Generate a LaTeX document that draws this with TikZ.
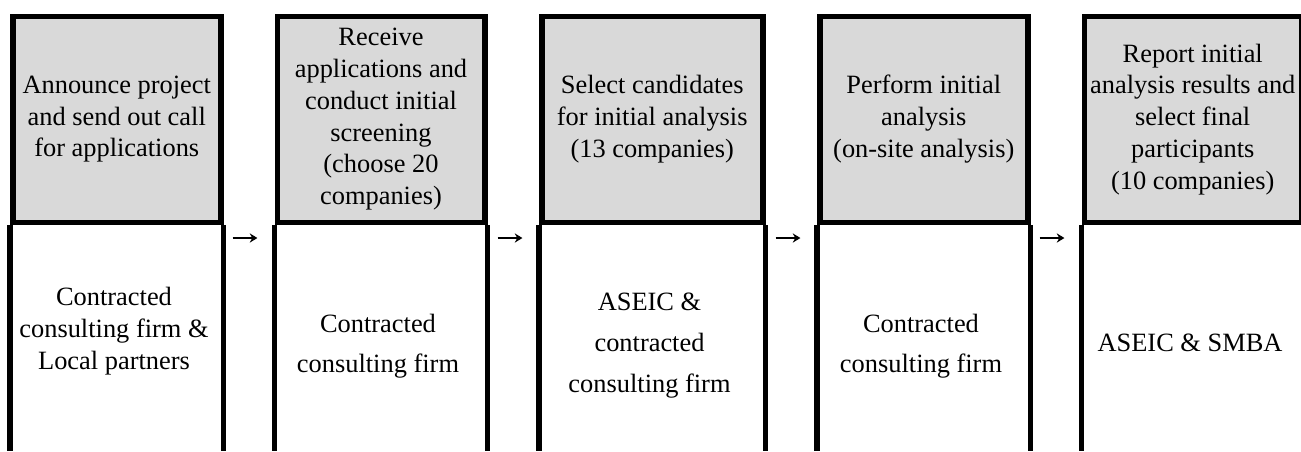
\documentclass[tikz,border=0pt]{standalone}
\usepackage{fontspec}
\setmainfont{Liberation Serif}
\usetikzlibrary{positioning, arrows.meta}
\definecolor{headgray}{RGB}{217,217,217}
\tikzset{
  stage/.style={draw, fill=headgray, line width=2.75pt, align=center, inner sep=0pt,
    minimum height=103pt, anchor=north west, font=\fontsize{13.2pt}{15.9pt}\selectfont},
  actor/.style={align=center, font=\fontsize{13.2pt}{#1}\selectfont},
  actor/.default=20pt,
  rule/.style={line width=2.75pt},
  gap/.style={inner sep=0pt, minimum width=12pt, minimum height=0pt},
  next/.style={line width=0.6pt, -{Stealth[length=3.8pt, width=4.6pt, inset=1.2pt]}},
}

\begin{document}
\begin{tikzpicture}[x=0.5pt, y=-0.5pt]
  \useasboundingbox (0,0) rectangle (1301,451);
  \coordinate (bot) at (0,451);
  % header row
  \node (h1) [stage, minimum width=104pt] at (10,13.5)
    {Announce project\\and send out call\\for applications};
  \node (h2) [stage, minimum width=103.75pt] at (274.5,13.5)
    {Receive\\applications and\\conduct initial\\screening\\(choose 20\\companies)};
  \node (h3) [stage, minimum width=110.5pt] at (539,13.5)
    {Select candidates\\for initial analysis\\(13 companies)};
  \node (h4) [stage, minimum width=104pt] at (817,13.5)
    {Perform initial\\analysis\\(on-site analysis)};
  \node (h5) [stage, minimum width=108.5pt] at (1081.5,13.5)
    {Report initial\\analysis results and\\select final\\participants\\(10 companies)};
  % side walls of the columns
  \draw[rule] (h1.south west) -- (h1.south west |- bot);
  \draw[rule] (h1.south east) -- (h1.south east |- bot);
  \draw[rule] (h2.south west) -- (h2.south west |- bot);
  \draw[rule] (h2.south east) -- (h2.south east |- bot);
  \draw[rule] (h3.south west) -- (h3.south west |- bot);
  \draw[rule] (h3.south east) -- (h3.south east |- bot);
  \draw[rule] (h4.south west) -- (h4.south west |- bot);
  \draw[rule] (h4.south east) -- (h4.south east |- bot);
  \draw[rule] (h5.south west) -- (h5.south west |- bot);
  \draw[rule] (h5.south east) -- (h5.south east |- bot);
  % who does it
  \node (b1) [actor=15.9pt] at (114,331) {Contracted\\consulting firm \&\\Local partners};
  \node (b2) [actor] at (378,346) {Contracted\\consulting firm};
  \node (b3) [actor=20.5pt] at (649.5,346) {ASEIC \&\\contracted\\consulting firm};
  \node (b4) [actor] at (921,346) {Contracted\\consulting firm};
  \node (b5) [actor] at (1190,343) {ASEIC \& SMBA};
  % steps
  \node (a1) [gap] at (245,238) {};
  \node (a2) [gap] at (510,238) {};
  \node (a3) [gap] at (788,238) {};
  \node (a4) [gap] at (1052,238) {};
  \draw[next] (a1.west) -- (a1.east);
  \draw[next] (a2.west) -- (a2.east);
  \draw[next] (a3.west) -- (a3.east);
  \draw[next] (a4.west) -- (a4.east);
\end{tikzpicture}
\end{document}
